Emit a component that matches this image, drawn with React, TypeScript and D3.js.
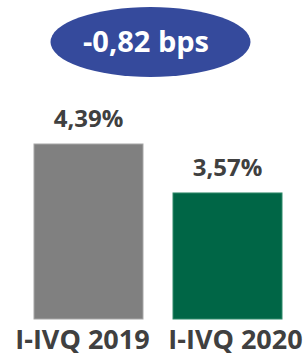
import { useRef, useEffect } from "react";
import * as d3 from "d3";

const categories = ["I-IVQ 2019", "I-IVQ 2020"];
const values = [4.39, 3.57];
const valueLabels = ["4,39%", "3,57%"];
const colors = ["#808080", "#006646"];
const strokes = ["#a6a6a6", "#2f8a6a"];
const badge = "-0,82 bps";

export default function App() {
  const ref = useRef<SVGSVGElement>(null);
  useEffect(() => {
    const svg = d3.select(ref.current);
    svg.selectAll("*").remove();

    const x = d3.scaleBand().domain(categories).range([34, 282]).paddingInner(0.216).paddingOuter(0);
    const y = d3.scaleLinear().domain([1.46, 4.39]).range([319, 144]);

    // badge
    svg.append("ellipse")
      .attr("cx", 150.5).attr("cy", 42).attr("rx", 100).attr("ry", 35)
      .attr("fill", "#354a9c");
    svg.append("text")
      .attr("x", 146).attr("y", 52)
      .attr("text-anchor", "middle")
      .attr("font-family", "Open Sans").attr("font-weight", 700)
      .attr("font-size", 29).attr("fill", "#fff")
      .text(badge);

    svg.selectAll("rect.bar")
      .data(values)
      .join("rect")
      .attr("class", "bar")
      .attr("x", (d, i) => x(categories[i])!)
      .attr("y", (d) => y(d))
      .attr("width", x.bandwidth())
      .attr("height", (d) => y(1.46) - y(d))
      .attr("fill", (d, i) => colors[i])
      .attr("stroke", (d, i) => strokes[i])
      .attr("stroke-width", 1);

    svg.selectAll("text.val")
      .data(values)
      .join("text")
      .attr("class", "val")
      .attr("x", (d, i) => x(categories[i])! + x.bandwidth() / 2)
      .attr("y", (d) => y(d) - 17)
      .attr("text-anchor", "middle")
      .attr("font-family", "Open Sans").attr("font-weight", 700)
      .attr("font-size", 24).attr("fill", "#404040")
      .text((d, i) => valueLabels[i]);

    svg.selectAll("text.cat")
      .data(categories)
      .join("text")
      .attr("class", "cat")
      .attr("x", (d, i) => x(d)! + x.bandwidth() / 2 + (i === 0 ? -6 : 8))
      .attr("y", 349)
      .attr("text-anchor", "middle")
      .attr("font-family", "Open Sans").attr("font-weight", 700)
      .attr("font-size", 27).attr("fill", "#404040")
      .text((d) => d);
  }, []);
  return (
    <svg ref={ref} width={303} height={353} style={{ position: "absolute", left: 0, top: 0 }} />
  );
}
